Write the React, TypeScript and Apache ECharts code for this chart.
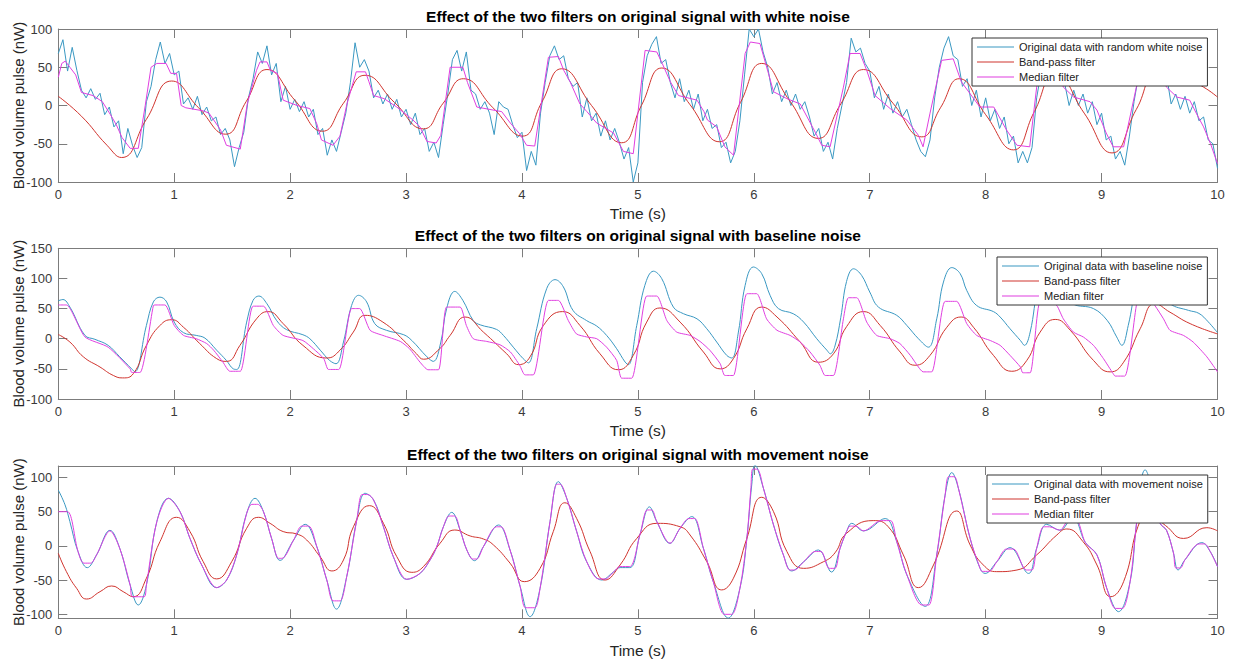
import React, { useEffect, useRef } from "react";
import * as echarts from "echarts";

// ---------- DATA ----------
const TITLES = [
  "Effect of the two filters on original signal with white noise",
  "Effect of the two filters on original signal with baseline noise",
  "Effect of the two filters on original signal with movement noise",
];
const ORIGINAL_NAMES = [
  "Original data with random white noise",
  "Original data with baseline noise",
  "Original data with movement noise",
];
const BAND_NAME = "Band-pass filter";
const MEDIAN_NAME = "Median filter";
const X_LABEL = "Time (s)";
const Y_LABEL = "Blood volume pulse (nW)";
const X_TICKS = [0, 1, 2, 3, 4, 5, 6, 7, 8, 9, 10];
const Y_TICKS_TOP = [-100, -50, 0, 50, 100];
const Y_TICKS_MID = [-100, -50, 0, 50, 100, 150];
const Y_TICKS_BOT = [-100, -50, 0, 50, 100];

// white-noise signal, sampled every 0.04 s from 0 to 10 s
const TOP_STEP = 0.04;
const topOriginal = [
  68, 86, 45, 76, 46, 20, 10, 22, 8, 16, -12, -2, -28, -20, -63, -30, -52, -68, -55, 5, 25, 60, 83, 55, 68,
  40, 45, 2, 10, -5, 12, -12, -2, -20, -15, -38, -30, -45, -80, -55, -35, 10, 35, 70, 55, 78, 40, 55, 5, 25,
  -5, 8, -8, 5, -15, -5, -38, -30, -65, -45, -60, -35, -10, 30, 82, 50, 60, 45, 10, 20, 2, 15, -5, 8, -15,
  -5, -25, -10, -38, -30, -60, -48, -68, -25, 15, 60, 72, 45, 70, 20, 15, -5, 5, -10, -38, 5, -2, -5, -25, -42,
  -35, -85, -60, -78, -10, 30, 65, 78, 60, 65, 35, 25, 30, -15, 10, -20, -10, -40, -20, -45, -30, -48, -70, -55, -100,
  -75, 30, 65, 80, 90, 55, 60, 30, 10, 35, 5, 20, -5, 15, -20, -5, -30, -25, -55, -48, -75, -60, -20, 40, 100,
  90, 100, 70, 50, 15, 30, 5, 20, 0, 15, -5, 5, -15, -40, -30, -60, -48, -70, -30, 0, 30, 88, 70, 75, 55,
  45, 10, 25, -5, 15, -10, 5, -15, -5, -25, -45, -60, -67, -45, 10, 50, 75, 90, 65, 60, 25, 35, 0, 20, -15,
  10, -20, -5, -30, -15, -50, -40, -75, -60, -75, -55, 10, 45, 70, 60, 75, 45, 30, 0, 20, 0, 15, -10, 5, -25,
  -10, -45, -40, -70, -60, -78, -40, 5, 40, 60, 80, 65, 75, 50, 40, 2, 15, -5, 12, -10, 5, -20, -15, -45, -50,
  -82,
];

const topBand = [
  [0, 12], [0.2, -14], [0.42, -52], [0.546, -68], [0.76, -18], [0.978, 32], [1.21, -3], [1.444, -37.5],
  [1.62, 5], [1.8, 47], [2.04, 7], [2.28, -33.6], [2.46, 3], [2.646, 39.5], [2.9, 4], [3.15, -30.5],
  [3.32, 3], [3.494, 35], [3.75, -3], [4.006, -40], [4.17, 4], [4.343, 48], [4.6, 0], [4.86, -48.7],
  [5.03, 0], [5.206, 49], [5.45, 1], [5.703, -47.4], [5.885, 4], [6.068, 55], [6.31, 6], [6.557, -43],
  [6.75, 2], [6.946, 47], [7.2, 3], [7.449, -41], [7.61, -3], [7.771, 35], [8.0, -12], [8.24, -58],
  [8.42, -8], [8.6, 42], [8.85, -10], [9.09, -62], [9.3, -5], [9.5, 45], [9.75, 33], [9.88, 24], [10, 11],
];

const topMedian = [
  [0, 37], [0.03, 55], [0.06, 58], [0.1, 50], [0.15, 40], [0.2, 17], [0.3, 13], [0.38, 5], [0.45, -12],
  [0.5, -25], [0.55, -42], [0.62, -56], [0.69, -56], [0.75, 0], [0.8, 50], [0.85, 55], [0.93, 55],
  [0.97, 42], [1.02, 42], [1.06, 0], [1.1, -3], [1.25, -7], [1.3, -10], [1.4, -32], [1.45, -52],
  [1.57, -57], [1.63, 2], [1.71, 46], [1.74, 57], [1.8, 57], [1.83, 46], [1.89, 42], [1.94, 7],
  [2.06, 0], [2.17, -4], [2.23, -24], [2.27, -45], [2.37, -52], [2.43, -40], [2.49, 2], [2.57, 44],
  [2.65, 44], [2.68, 31], [2.72, 13], [2.81, 9], [2.92, -2], [3.06, -19], [3.12, -28], [3.18, -47],
  [3.26, -49], [3.3, -39], [3.38, 50], [3.49, 50], [3.53, 30], [3.61, -2], [3.825, -8], [3.9, -23],
  [3.98, -37], [4.04, -52], [4.11, -53], [4.228, 63], [4.314, 64], [4.36, 46], [4.415, 31], [4.5, 2],
  [4.56, -8], [4.645, -23], [4.79, -36], [4.875, -60], [4.96, -63], [5.062, 72], [5.163, 70], [5.21, 55],
  [5.28, 31], [5.35, 13], [5.51, 7], [5.57, -8], [5.6, -19], [5.68, -28], [5.75, -54], [5.825, -65],
  [5.925, 68], [5.97, 83], [6.053, 81], [6.126, 42], [6.17, 18], [6.285, 9], [6.4, 2], [6.46, -15],
  [6.53, -35], [6.586, -52], [6.658, -54], [6.773, 24], [6.83, 68], [6.917, 68], [6.974, 46], [7.046, 13],
  [7.176, -4], [7.32, -19], [7.42, -39], [7.46, -54], [7.52, -10], [7.62, 59], [7.72, 61], [7.79, 31],
  [7.95, -2], [8.07, -2], [8.18, -32], [8.27, -52], [8.38, -54], [8.44, 24], [8.5, 55], [8.6, 58],
  [8.67, 24], [8.76, 11], [8.9, 5], [8.96, -6], [9.04, -36], [9.1, -54], [9.19, -54], [9.3, 24],
  [9.36, 55], [9.46, 58], [9.56, 24], [9.65, 11], [9.76, 7], [9.82, -11], [9.88, -28], [9.94, -50], [10, -76],
];

const midOriginal = [
  [0, 63], [0.04, 65], [0.1, 52.5], [0.23, 5.5], [0.316, -1], [0.43, -11], [0.53, -30], [0.633, -50],
  [0.66, -55], [0.76, 22], [0.82, 61], [0.877, 69], [0.935, 61], [1.0, 27.6], [1.08, 10], [1.19, 5.5],
  [1.265, 1], [1.366, -19], [1.45, -36], [1.51, -50], [1.54, -51], [1.625, 27.6], [1.68, 63.6], [1.73, 70.8],
  [1.8, 58], [1.884, 30], [1.97, 15], [2.11, 6.6], [2.17, 0], [2.26, -19], [2.34, -36], [2.396, -41.5],
  [2.46, -5.5], [2.53, 55], [2.59, 72], [2.66, 61], [2.73, 25], [2.83, 14], [2.98, 6.6], [3.05, -3],
  [3.18, -30], [3.235, -37.6], [3.3, -5.5], [3.35, 50], [3.42, 78.5], [3.49, 63.6], [3.58, 30], [3.64, 23],
  [3.78, 15.5], [3.84, 5.5], [3.925, -14], [4.01, -33], [4.055, -40], [4.127, 16.6], [4.213, 83], [4.285, 98],
  [4.357, 86], [4.44, 47], [4.558, 30], [4.645, 21], [4.73, 5.5], [4.817, -16.6], [4.89, -38.8], [4.918, -43],
  [4.99, 22], [5.06, 88.5], [5.134, 112], [5.206, 99.6], [5.306, 52.5], [5.393, 41.5], [5.51, 33], [5.594, 16.6],
  [5.68, -5.5], [5.766, -27.6], [5.81, -32], [5.867, 11], [5.925, 88.5], [5.996, 119], [6.068, 108], [6.14, 72],
  [6.212, 50], [6.34, 41.5], [6.43, 27.6], [6.543, 0], [6.63, -19], [6.66, -25], [6.7, -12], [6.75, 35],
  [6.8, 95], [6.86, 116], [6.93, 105], [7.0, 77.5], [7.075, 52.5], [7.233, 38.8], [7.32, 22], [7.42, 0],
  [7.506, -14], [7.578, 33], [7.636, 94], [7.708, 118], [7.78, 108], [7.837, 80], [7.923, 55], [8.067, 45],
  [8.125, 36], [8.21, 16.6], [8.3, -3], [8.335, -11], [8.384, 11], [8.456, 88.5], [8.53, 118], [8.6, 108],
  [8.66, 80], [8.75, 58], [8.93, 50], [9.05, 30], [9.13, 3], [9.175, -11], [9.23, 22], [9.3, 88],
  [9.37, 120], [9.44, 108], [9.5, 82], [9.59, 58], [9.75, 47], [9.84, 42], [9.92, 28], [10, 10],
];

const midBand = [
  [0, 7], [0.1, -5.5], [0.216, -30], [0.36, -47], [0.475, -61], [0.555, -65], [0.647, -58], [0.76, -11],
  [0.877, 22], [0.978, 31.5], [1.08, 19], [1.22, -8], [1.366, -33], [1.452, -37.6], [1.567, -11], [1.71, 33],
  [1.81, 45], [1.94, 25], [2.11, -11], [2.315, -32], [2.43, -19], [2.545, 11], [2.646, 38.8], [2.8, 27.6],
  [2.98, -3], [3.09, -25], [3.15, -34], [3.29, -16.6], [3.38, 5.5], [3.509, 36], [3.667, 11], [3.868, -25],
  [3.97, -43], [4.07, -30], [4.185, 22], [4.35, 45], [4.5, 22], [4.673, -25], [4.832, -51.5], [4.96, -27.6],
  [5.076, 27.6], [5.19, 51], [5.364, 27.6], [5.565, -22], [5.71, -50], [5.824, -33], [5.94, 16.6], [6.068, 52.5],
  [6.2, 36], [6.4, -5.5], [6.557, -39], [6.687, -25], [6.8, 20], [6.946, 45], [7.09, 22], [7.262, -22],
  [7.39, -44], [7.52, -27.6], [7.665, 19], [7.788, 36], [7.895, 19], [8.067, -27.6], [8.225, -54], [8.355, -36],
  [8.47, 11], [8.6, 32], [8.73, 14], [8.93, -36], [9.074, -55], [9.19, -39], [9.333, 16.6], [9.46, 58],
  [9.59, 44], [9.764, 25], [10, 8],
];

const midMedian = [
  [0, 56], [0.07, 56], [0.23, 3], [0.43, -14], [0.62, -50], [0.633, -56], [0.705, -56], [0.82, 55],
  [0.834, 56], [0.92, 56], [1.0, 22], [1.08, 5.5], [1.19, 0], [1.28, -8], [1.34, -19], [1.42, -38.8],
  [1.48, -54], [1.57, -54], [1.68, 54], [1.77, 54], [1.855, 22], [1.94, 5.5], [2.11, -3], [2.2, -16.6],
  [2.29, -33], [2.33, -51], [2.42, -51], [2.53, 50], [2.6, 50], [2.69, 14], [2.8, 5.5], [2.95, -4.5],
  [3.03, -16.6], [3.12, -38.8], [3.19, -51.5], [3.28, -51.5], [3.35, 52.5], [3.466, 52.5], [3.52, 22], [3.58, 0],
  [3.696, -4.5], [3.81, -10], [3.9, -22], [3.98, -44], [4.026, -60], [4.098, -60], [4.228, 63.6], [4.314, 63.6],
  [4.4, 30], [4.47, 8], [4.558, 3], [4.645, 0], [4.73, -14], [4.817, -36], [4.86, -65.5], [4.947, -65.5],
  [5.076, 70.8], [5.163, 70.8], [5.25, 30], [5.335, 11], [5.45, 5.5], [5.536, -4.5], [5.62, -19], [5.71, -41.5],
  [5.75, -61], [5.824, -61], [5.94, 74.7], [6.025, 74.7], [6.11, 33], [6.2, 14], [6.313, 5.5], [6.4, -5.5],
  [6.485, -22], [6.57, -44], [6.615, -61], [6.687, -61], [6.773, 33], [6.816, 68], [6.888, 68], [6.974, 27.6],
  [7.06, 5.5], [7.176, 0], [7.26, -8], [7.35, -27.6], [7.42, -47], [7.46, -55], [7.535, -55], [7.65, 62],
  [7.75, 62], [7.837, 25], [7.923, 5.5], [8.04, -3], [8.125, -11], [8.21, -27.6], [8.3, -47], [8.32, -56.5],
  [8.384, -56.5], [8.47, 61], [8.56, 61], [8.614, 55], [8.67, 33], [8.757, 11], [8.843, 2.8], [8.93, -11],
  [9.016, -33], [9.1, -58], [9.117, -62], [9.2, -62], [9.3, 55], [9.32, 63], [9.42, 63], [9.46, 55],
  [9.534, 33], [9.59, 14], [9.706, 5.5], [9.79, -5.5], [9.908, -30], [10, -55],
];

const botOriginal = [
  [0, 81.6], [0.058, 60], [0.1, 35.5], [0.17, -8], [0.25, -31.6], [0.33, -13], [0.446, 22.8], [0.53, -3.4],
  [0.62, -57], [0.69, -86], [0.76, -57], [0.85, 35.5], [0.95, 69.5], [1.05, 50], [1.136, 11], [1.237, -27.7],
  [1.366, -60.7], [1.452, -49.6], [1.539, -13], [1.625, 47.6], [1.697, 69.5], [1.77, 50], [1.84, 11], [1.913, -21],
  [2.03, 8.7], [2.13, 31.6], [2.23, -1], [2.316, -49.6], [2.4, -92], [2.488, -44.7], [2.575, 38], [2.646, 76.8],
  [2.72, 67], [2.805, 28], [2.89, -15.5], [3.006, -48.6], [3.12, -40], [3.207, -20.4], [3.265, -1], [3.322, 28],
  [3.394, 49], [3.466, 23.3], [3.524, -5.8], [3.59, -21.4], [3.667, -1], [3.797, 30.6], [3.897, -5.8], [3.984, -59],
  [4.07, -103], [4.156, -61.7], [4.242, 35.5], [4.314, 93.8], [4.386, 69.5], [4.472, 21], [4.558, -22.8], [4.688, -49.6],
  [4.789, -38], [4.846, -31.5], [4.93, -31.5], [5.02, 18], [5.1, 57], [5.163, 35.5], [5.277, 3.9], [5.364, 25.8],
  [5.465, 42.8], [5.565, -3.4], [5.65, -52], [5.78, -105], [5.88, -61.7], [5.94, 11], [5.982, 89], [6.01, 118],
  [6.083, 84], [6.17, 30.6], [6.255, -13], [6.327, -36.4], [6.43, -23], [6.557, -5.8], [6.67, -38], [6.744, -3.4],
  [6.8, 21], [6.845, 33], [6.946, 22], [7.133, 40], [7.233, 6.3], [7.32, -42], [7.478, -88], [7.578, -13],
  [7.65, 74], [7.708, 107], [7.765, 84], [7.866, 11], [7.952, -32.6], [7.995, -40], [8.096, -23], [8.21, -2.4],
  [8.37, -40], [8.44, -3.4], [8.527, 31.6], [8.64, 23], [8.75, 42], [8.86, 5], [8.96, -13], [9.045, -61.7],
  [9.146, -95.7], [9.246, -52], [9.3, 30.6], [9.376, 111], [9.45, 75], [9.505, 33], [9.56, 23], [9.62, -10],
  [9.66, -35], [9.72, -20], [9.865, 4.9], [9.937, -8], [10, -30],
];

const botBand = [
  [0, -10.7], [0.07, -37.4], [0.158, -61.7], [0.244, -77.3], [0.36, -66.6], [0.46, -58.3], [0.56, -66.6], [0.647, -73.9],
  [0.76, -47], [0.877, 6.3], [1.02, 41.8], [1.136, 21], [1.25, -22.8], [1.366, -48], [1.496, -22.8], [1.625, 25.8],
  [1.726, 41.8], [1.827, 33], [1.94, 21], [2.057, 17.5], [2.143, 8.7], [2.258, -15.5], [2.36, -36.4], [2.46, -20.4],
  [2.546, 28], [2.684, 58.8], [2.805, 33], [2.92, -15.5], [3.05, -38.4], [3.15, -30], [3.293, 3.9], [3.42, 23.3],
  [3.553, 14.6], [3.667, 10.2], [3.754, 1.5], [3.897, -25], [4.02, -52], [4.156, -32.6], [4.27, 21], [4.37, 63],
  [4.472, 40], [4.587, -8], [4.717, -49.6], [4.846, -27.7], [4.99, 11], [5.163, 33], [5.364, 28], [5.45, 16],
  [5.594, -22.8], [5.723, -64], [5.824, -47], [5.94, 11], [6.068, 71], [6.17, 50], [6.285, -8], [6.43, -32.6],
  [6.6, -23], [6.7, -10], [6.8, 18.5], [7.03, 37], [7.16, 28], [7.29, -13], [7.42, -60.7], [7.55, -27.7],
  [7.75, 51], [7.866, 1.5], [7.98, -27.7], [8.096, -37.4], [8.27, -35], [8.44, -13], [8.614, 16], [8.7, 24.8],
  [8.84, 6.3], [8.96, -27.7], [9.08, -73.9], [9.19, -52], [9.33, 35.5], [9.42, 45], [9.55, 30], [9.707, 11],
  [9.908, 26.7], [10, 22],
];

const botMedian = [
  [0, 50], [0.08, 50], [0.17, -8], [0.22, -25], [0.28, -25], [0.33, -13], [0.446, 22], [0.53, -3.4],
  [0.62, -57], [0.64, -74], [0.74, -74], [0.76, -57], [0.85, 35.5], [0.95, 69.5], [1.05, 50], [1.136, 11],
  [1.237, -27.7], [1.366, -60.7], [1.452, -49.6], [1.539, -13], [1.625, 47.6], [1.67, 60.7], [1.72, 60.7], [1.77, 50],
  [1.84, 11], [1.9, -18], [1.93, -18], [2.03, 8.7], [2.1, 29], [2.16, 29], [2.23, -1], [2.316, -49.6],
  [2.37, -80], [2.43, -80], [2.488, -44.7], [2.575, 38], [2.62, 75], [2.67, 75], [2.72, 67], [2.805, 28],
  [2.89, -15.5], [3.006, -48.6], [3.12, -40], [3.207, -20.4], [3.265, -1], [3.322, 28], [3.37, 43.7], [3.42, 43.7],
  [3.466, 23.3], [3.524, -5.8], [3.575, -19], [3.61, -19], [3.667, -1], [3.78, 28], [3.82, 28], [3.897, -5.8],
  [3.984, -59], [4.03, -90], [4.11, -90], [4.156, -61.7], [4.242, 35.5], [4.3, 90], [4.33, 90], [4.386, 69.5],
  [4.472, 21], [4.558, -22.8], [4.66, -48], [4.72, -48], [4.789, -38], [4.846, -30], [4.93, -30], [5.02, 18],
  [5.08, 52.5], [5.12, 52.5], [5.163, 35.5], [5.277, 3.9], [5.364, 25.8], [5.44, 40], [5.49, 40], [5.565, -3.4],
  [5.65, -52], [5.745, -99.6], [5.81, -99.6], [5.88, -61.7], [5.94, 11], [5.975, 85], [5.99, 112], [6.03, 112],
  [6.083, 84], [6.17, 30.6], [6.255, -13], [6.31, -35], [6.35, -35], [6.43, -23], [6.53, -8], [6.58, -8],
  [6.65, -32.6], [6.7, -32.6], [6.744, -3.4], [6.8, 21], [6.83, 29], [6.88, 29], [6.946, 22], [7.1, 37],
  [7.18, 37], [7.233, 6.3], [7.32, -42], [7.45, -86], [7.51, -86], [7.578, -13], [7.65, 74], [7.68, 101],
  [7.73, 101], [7.765, 84], [7.866, 11], [7.952, -32.6], [7.97, -37], [8.03, -37], [8.096, -23], [8.18, -4.4],
  [8.24, -4.4], [8.35, -35], [8.4, -35], [8.44, -3.4], [8.5, 28], [8.55, 28], [8.64, 23], [8.72, 38],
  [8.78, 38], [8.86, 5], [8.96, -13], [9.045, -61.7], [9.12, -91], [9.18, -91], [9.246, -52], [9.3, 30.6],
  [9.35, 100], [9.4, 100], [9.45, 75], [9.505, 33], [9.56, 23], [9.62, -10], [9.64, -32], [9.68, -32],
  [9.72, -20], [9.84, 3], [9.89, 3], [9.937, -8], [10, -30],
];

// ---------- STYLE ----------
const FONT = '"Liberation Sans", Arial, Helvetica, sans-serif';
const C_ORIG = "#3a98c2";
const C_BAND = "#d0342e";
const C_MED = "#e03fe0";
const AXIS_COL = "#7c7c7c";
const LABEL_COL = "#3a3a3a";

const PLOT_LEFT = 58.3;
const PLOT_RIGHT = 1217.5;
const PANELS = [
  { top: 29, bottom: 182, min: -100, max: 100, ticks: Y_TICKS_TOP, legendLeft: 972, legendTop: 38, titleY: 16, xLabelY: 213 },
  { top: 248.3, bottom: 399, min: -100, max: 150, ticks: Y_TICKS_MID, legendLeft: 997, legendTop: 257, titleY: 235, xLabelY: 430 },
  { top: 466, bottom: 618.3, min: -105.4, max: 116.6, ticks: Y_TICKS_BOT, legendLeft: 987, legendTop: 475, titleY: 454, xLabelY: 650 },
];

function buildOption() {
  const topOrigPairs = topOriginal.map((v, i) => [Number((i * TOP_STEP).toFixed(2)), v]);
  const seriesData = [
    { orig: topOrigPairs, band: topBand, med: topMedian, smoothOrig: false, smoothMed: false },
    { orig: midOriginal, band: midBand, med: midMedian, smoothOrig: 0.4, smoothMed: 0.2 },
    { orig: botOriginal, band: botBand, med: botMedian, smoothOrig: 0.4, smoothMed: 0.3 },
  ];

  const grid: any[] = [];
  const xAxis: any[] = [];
  const yAxis: any[] = [];
  const series: any[] = [];
  const legend: any[] = [];
  const graphic: any[] = [];

  PANELS.forEach((p, i) => {
    grid.push({
      left: PLOT_LEFT,
      top: p.top,
      width: PLOT_RIGHT - PLOT_LEFT,
      height: p.bottom - p.top,
      containLabel: false,
      outerBoundsMode: "none",
    });
    const lineStyle = { color: AXIS_COL, width: 1 };
    xAxis.push({
      type: "value", gridIndex: i, min: 0, max: 10, interval: 1, position: "bottom",
      axisLine: { show: true, onZero: false, lineStyle },
      axisTick: { show: true, inside: true, length: 9, lineStyle, customValues: X_TICKS },
      axisLabel: { color: LABEL_COL, fontSize: 13, fontFamily: FONT, margin: 6, customValues: X_TICKS },
      splitLine: { show: false },
    });
    xAxis.push({
      type: "value", gridIndex: i, min: 0, max: 10, interval: 1, position: "top",
      axisLine: { show: true, onZero: false, lineStyle },
      axisTick: { show: true, inside: true, length: 9, lineStyle, customValues: X_TICKS },
      axisLabel: { show: false },
      splitLine: { show: false },
    });
    yAxis.push({
      type: "value", gridIndex: i, min: p.min, max: p.max, position: "left",
      axisLine: { show: true, onZero: false, lineStyle },
      axisTick: { show: true, inside: true, length: 9, lineStyle, customValues: p.ticks },
      axisLabel: { color: LABEL_COL, fontSize: 13, fontFamily: FONT, margin: 6, customValues: p.ticks },
      splitLine: { show: false },
    });
    yAxis.push({
      type: "value", gridIndex: i, min: p.min, max: p.max, position: "right",
      axisLine: { show: true, onZero: false, lineStyle },
      axisTick: { show: true, inside: true, length: 9, lineStyle, customValues: p.ticks },
      axisLabel: { show: false },
      splitLine: { show: false },
    });

    const d = seriesData[i];
    const common = {
      type: "line", xAxisIndex: 2 * i, yAxisIndex: 2 * i, showSymbol: false, symbol: "none",
      silent: true, animation: false, clip: true, emphasis: { disabled: true },
    };
    series.push({
      ...common, name: ORIGINAL_NAMES[i], data: d.orig, smooth: d.smoothOrig,
      lineStyle: { color: C_ORIG, width: 1 }, itemStyle: { color: C_ORIG },
    });
    series.push({
      ...common, name: BAND_NAME, data: d.band, smooth: 0.5,
      lineStyle: { color: C_BAND, width: 1 }, itemStyle: { color: C_BAND },
    });
    series.push({
      ...common, name: MEDIAN_NAME, data: d.med, smooth: d.smoothMed,
      lineStyle: { color: C_MED, width: 1 }, itemStyle: { color: C_MED },
    });

    legend.push({
      left: p.legendLeft, top: p.legendTop, orient: "vertical",
      data: [ORIGINAL_NAMES[i], BAND_NAME, MEDIAN_NAME],
      icon: "rect",
      backgroundColor: "#ffffff", borderColor: "#333333", borderWidth: 1, borderRadius: 0,
      padding: [2.5, 5, 2.5, 5], itemGap: 2, itemWidth: 37, itemHeight: 1.2, itemTextGap: 5,
      selectedMode: false,
      textStyle: { fontSize: 11, lineHeight: 13, color: "#222", fontFamily: FONT },
    });

    const cx = (PLOT_LEFT + PLOT_RIGHT) / 2;
    graphic.push({
      type: "text", x: cx, y: p.titleY, silent: true,
      style: {
        text: TITLES[i], fill: "#000", font: `bold 15.5px ${FONT}`,
        textAlign: "center", align: "center", textVerticalAlign: "middle", verticalAlign: "middle",
      },
    });
    graphic.push({
      type: "text", x: cx, y: p.xLabelY, silent: true,
      style: {
        text: X_LABEL, fill: "#262626", font: `15.5px ${FONT}`,
        textAlign: "center", align: "center", textVerticalAlign: "middle", verticalAlign: "middle",
      },
    });
    graphic.push({
      type: "text", x: 18, y: (p.top + p.bottom) / 2, rotation: Math.PI / 2, silent: true,
      style: {
        text: Y_LABEL, fill: "#262626", font: `15px ${FONT}`,
        textAlign: "center", align: "center", textVerticalAlign: "middle", verticalAlign: "middle",
      },
    });
  });

  return {
    animation: false,
    backgroundColor: "#ffffff",
    textStyle: { fontFamily: FONT },
    grid, xAxis, yAxis, series, legend, graphic,
  };
}

export default function App() {
  const ref = useRef<HTMLDivElement>(null);
  useEffect(() => {
    document.body.style.margin = "0";
    if (!ref.current) return;
    const chart = echarts.init(ref.current, null, { renderer: "svg" });
    chart.setOption(buildOption() as any);
    return () => chart.dispose();
  }, []);
  return <div ref={ref} style={{ width: 1233, height: 661, background: "#fff" }} />;
}
